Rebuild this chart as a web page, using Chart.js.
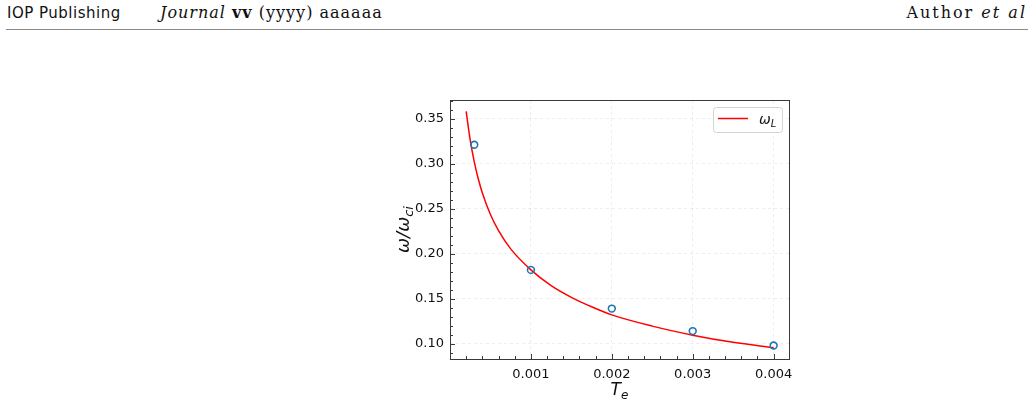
<!DOCTYPE html>
<html>
<head>
<meta charset="utf-8">
<script src="https://cdn.jsdelivr.net/npm/chart.js@4.4.1/dist/chart.umd.min.js"></script>
<style>
  html, body { margin: 0; padding: 0; background: #fff; }
  body { width: 1034px; height: 404px; position: relative; overflow: hidden; }
  .hdr { position: absolute; white-space: nowrap; color: #111; }
  #pub { left: 7px; top: 4px; font: 15px "DejaVu Sans", sans-serif; letter-spacing: 0.5px; }
  #jrn { left: 160px; top: 3px; font: 16px "DejaVu Serif", serif; letter-spacing: 1px; }
  #aut { right: 7px; top: 3px; font: 16px "DejaVu Serif", serif; letter-spacing: 2px; }
  #rule { position: absolute; left: 6px; top: 29px; width: 1022px; height: 1px; background: #8a8a8a; }
  #wrap { position: absolute; left: 0; top: 0; width: 1034px; height: 404px; }
</style>
</head>
<body>
<div class="hdr" id="pub">IOP Publishing</div>
<div class="hdr" id="jrn"><i>Journal</i> <b>vv</b> (yyyy) aaaaaa</div>
<div class="hdr" id="aut">Author <i>et al</i></div>
<div id="rule"></div>
<div id="wrap"><canvas id="chart" width="1034" height="404"></canvas></div>

<script>
'use strict';

// ── Data ───────────────────────────────────────────────────────
// measured points (blue circles)
const obsT = [0.0003, 0.001, 0.002, 0.003, 0.004];
const obsW = [0.321, 0.182, 0.139, 0.114, 0.098];

// omega_L curve (red line)
const fitT = [0.0002, 0.00025, 0.0003, 0.00035, 0.0004, 0.0005, 0.0006, 0.00075,
              0.001, 0.00125, 0.0015, 0.00175, 0.002, 0.0025, 0.003, 0.0035, 0.004];
const fitW = [0.358, 0.326, 0.302, 0.283, 0.2675, 0.2435, 0.2255, 0.2053,
              0.182, 0.1645, 0.1515, 0.141, 0.132, 0.1195, 0.1095, 0.1015, 0.0955];

const xTicks = [0.001, 0.002, 0.003, 0.004];
const yTicks = [0.10, 0.15, 0.20, 0.25, 0.30, 0.35];

const X_MIN = 0, X_MAX = 0.00419;
const Y_MIN = 0.083, Y_MAX = 0.3707;

const FRAME = '#3a3a3a';
const TXT   = '#111';

// ── Helpers ────────────────────────────────────────────────────
// draw text with subscript parts: parts = [[text, isSub], ...]
function subText(ctx, parts, x, y, size, align) {
  const big = `italic ${size}px "DejaVu Sans"`;
  const small = `italic ${Math.round(size * 0.7)}px "DejaVu Sans"`;
  let w = 0;
  parts.forEach(([t, sub]) => { ctx.font = sub ? small : big; w += ctx.measureText(t).width; });
  let cx = align === 'center' ? x - w / 2 : x;
  ctx.textAlign = 'left';
  ctx.textBaseline = 'alphabetic';
  parts.forEach(([t, sub]) => {
    ctx.font = sub ? small : big;
    ctx.fillText(t, cx, sub ? y + size * 0.22 : y);
    cx += ctx.measureText(t).width;
  });
}

// ── Overlay plugin: frame, inward ticks, axis titles, legend ───
const overlay = {
  id: 'overlay',
  afterDraw(chart) {
    const { ctx, chartArea: a, scales: { x, y } } = chart;
    ctx.save();

    // inward ticks (left + bottom)
    ctx.strokeStyle = FRAME;
    ctx.lineWidth = 1;
    ctx.beginPath();
    for (let i = 1; i <= 20; i++) {
      const v = i * 0.0002;
      if (v > X_MAX) break;
      const px = Math.round(x.getPixelForValue(v)) + 0.5;
      const len = (i % 5 === 0) ? 5 : 3;
      ctx.moveTo(px, a.bottom); ctx.lineTo(px, a.bottom - len);
    }
    for (let i = 9; i <= 37; i++) {
      const v = i / 100;
      if (v < Y_MIN || v > Y_MAX) continue;
      const py = Math.round(y.getPixelForValue(v)) + 0.5;
      const len = (i % 5 === 0) ? 5 : 3;
      ctx.moveTo(a.left, py); ctx.lineTo(a.left + len, py);
    }
    ctx.stroke();

    // frame
    ctx.strokeStyle = FRAME;
    ctx.strokeRect(Math.round(a.left) + 0.5, Math.round(a.top) + 0.5,
                   Math.round(a.right - a.left), Math.round(a.bottom - a.top));

    // axis titles
    ctx.fillStyle = TXT;
    subText(ctx, [['T', false], ['e', true]], (a.left + a.right) / 2, 395, 17, 'center');
    ctx.save();
    ctx.translate(409, (a.top + a.bottom) / 2);
    ctx.rotate(-Math.PI / 2);
    subText(ctx, [['ω/ω', false], ['ci', true]], 0, 0, 18, 'center');
    ctx.restore();

    // legend
    const lx = 713.5, ly = 107.5, lw = 69, lh = 25;
    ctx.fillStyle = 'rgba(255,255,255,0.85)';
    ctx.strokeStyle = '#d4d4d4';
    ctx.lineWidth = 1;
    ctx.beginPath();
    ctx.roundRect(lx, ly, lw, lh, 3);
    ctx.fill(); ctx.stroke();
    ctx.strokeStyle = '#ff0000';
    ctx.lineWidth = 1.5;
    ctx.beginPath();
    ctx.moveTo(718, 118.5); ctx.lineTo(748, 118.5);
    ctx.stroke();
    ctx.fillStyle = TXT;
    subText(ctx, [['ω', false], ['L', true]], 759, 124, 14, 'left');

    ctx.restore();
  },
};

// ── Chart ──────────────────────────────────────────────────────
new Chart(document.getElementById('chart'), {
  type: 'scatter',
  data: {
    datasets: [
      {
        label: 'ωL',
        data: fitT.map((t, i) => ({ x: t, y: fitW[i] })),
        showLine: true,
        borderColor: '#ff0000',
        borderWidth: 1.5,
        pointRadius: 0,
        cubicInterpolationMode: 'monotone',
        order: 2,
      },
      {
        label: 'data',
        data: obsT.map((t, i) => ({ x: t, y: obsW[i] })),
        showLine: false,
        pointRadius: 3.4,
        pointBorderWidth: 1.6,
        pointBorderColor: '#1f77b4',
        pointBackgroundColor: 'rgba(0,0,0,0)',
        order: 1,
      },
    ],
  },
  options: {
    responsive: false,
    animation: false,
    events: [],
    layout: { padding: { left: 390, top: 100, right: 245, bottom: 5 } },
    plugins: { legend: { display: false }, tooltip: { enabled: false } },
    scales: {
      x: {
        type: 'linear', min: X_MIN, max: X_MAX,
        afterBuildTicks: s => { s.ticks = xTicks.map(v => ({ value: v })); },
        afterFit: s => { s.height = 40; },
        border: { display: false, dash: [3, 3] },
        grid: { color: 'rgba(0,0,0,0.09)', lineWidth: 0.8, drawTicks: false },
        ticks: {
          color: TXT, padding: 8, maxRotation: 0,
          font: { family: 'DejaVu Sans', size: 13 },
          callback: v => Number(v).toFixed(3),
        },
      },
      y: {
        type: 'linear', min: Y_MIN, max: Y_MAX,
        afterBuildTicks: s => { s.ticks = yTicks.map(v => ({ value: v })); },
        afterFit: s => { s.width = 60; },
        border: { display: false, dash: [3, 3] },
        grid: { color: 'rgba(0,0,0,0.09)', lineWidth: 0.8, drawTicks: false },
        ticks: {
          color: TXT, padding: 6,
          font: { family: 'DejaVu Sans', size: 13 },
          callback: v => Number(v).toFixed(2),
        },
      },
    },
  },
  plugins: [overlay],
});
</script>
</body>
</html>
